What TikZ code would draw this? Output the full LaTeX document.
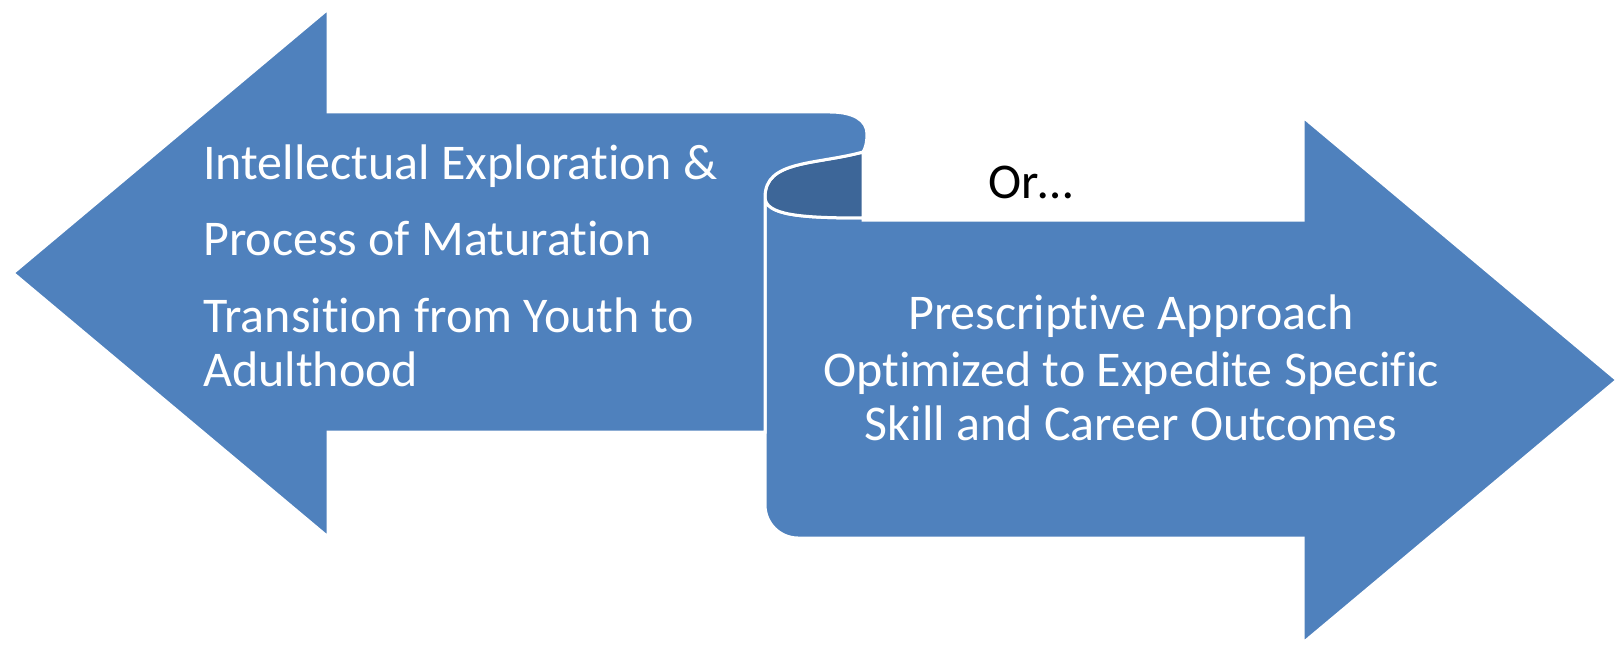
\documentclass[tikz,border=0pt]{standalone}
\usepackage{fontspec}
\setmainfont[Ligatures={NoCommon}]{Carlito}
\definecolor{mainblue}{HTML}{4F81BD}
\definecolor{curlblue}{HTML}{3D6698}
\begin{document}
\begin{tikzpicture}[x=1pt,y=-1pt,
  bluearrow/.style={fill=mainblue,draw=white,line width=3pt,line join=miter},
  curlshape/.style={fill=curlblue,draw=white,line width=3pt},
  wtext/.style={text=white,font=\fontsize{50}{57}\selectfont,inner sep=0pt},
  btext/.style={text=black,font=\fontsize{50}{57}\selectfont,inner sep=0pt}]
\useasboundingbox (0,0) rectangle (1619,647);
% right arrow
\path[bluearrow] (863,220) -- (863,218) .. controls (800,218) and (765,215) .. (765,197)
  -- (765,505) arc[start angle=180,end angle=90,radius=33] -- (1303,538) -- (1303,643)
  -- (1617,380) -- (1303,117) -- (1303,220) -- cycle;
% inner curl (back side)
\path[curlshape] (863,152) -- (863,218) .. controls (800,218) and (765,215) .. (765,197)
  .. controls (765,160) and (815,165) .. (863,152) -- cycle;
% left arrow with curl lip
\path[bluearrow] (13,273) -- (328,9) -- (328,112) -- (830,112)
  .. controls (853,112) and (867,120) .. (867,134)
  .. controls (867,143) and (865,149) .. (863,152)
  .. controls (815,165) and (765,160) .. (765,197)
  -- (765,432) -- (328,432) -- (328,537) -- cycle;
% texts
\node[wtext,anchor=base west] (l1) at (203,180) {Intellectual Exploration \&};
\node[wtext,anchor=base west] (l2) at (203,255) {Process of Maturation};
\node[wtext,anchor=base west] (l3) at (203,332) {Transition from Youth to};
\node[wtext,anchor=base west] (l4) at (203,386) {Adulthood};
\node[btext,anchor=base west] (or) at (988,199) {Or…};
\node[wtext,anchor=base] (r1) at (1131,329) {Prescriptive Approach};
\node[wtext,anchor=base] (r2) at (1131,386) {Optimized to Expedite Specific};
\node[wtext,anchor=base] (r3) at (1131,440) {Skill and Career Outcomes};
\end{tikzpicture}
\end{document}
